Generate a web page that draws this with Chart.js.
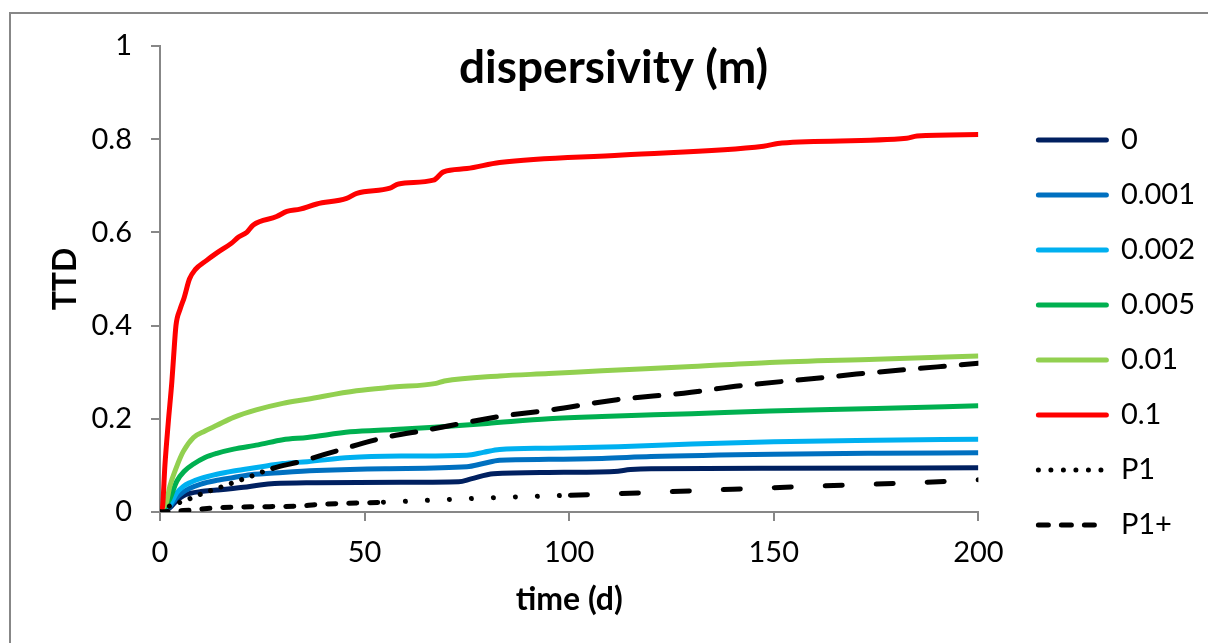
<!DOCTYPE html>
<html>
<head>
<meta charset="utf-8">
<script src="https://cdn.jsdelivr.net/npm/chart.js@4/dist/chart.umd.min.js"></script>
<style>
  html, body { margin: 0; padding: 0; background: #fff; overflow: hidden; }
  #wrap { position: relative; width: 1208px; height: 643px; overflow: hidden; }
  #frame { position: absolute; left: 9px; top: 12px; width: 1400px; height: 800px; border: 2px solid #878787; box-sizing: border-box; }
  #c { position: absolute; left: 0; top: 0; }
</style>
</head>
<body>
<div id="wrap">
  <div id="frame"></div>
  <canvas id="c" width="1208" height="643"></canvas>
</div>
<script>
// ---- data ----
const seriesNames = ['0', '0.001', '0.002', '0.005', '0.01', '0.1', 'P1', 'P1+'];
const seriesColors = ['#002060', '#0070C0', '#00B0F0', '#00B050', '#92D050', '#FF0000', '#000000', '#000000'];

const t0 = [0, 1, 2.4, 4, 5.7, 7.3, 10, 13.9, 20.4, 24.4, 28, 38, 60, 73, 76, 81.5, 95, 111, 115, 120, 150, 200];
const v0 = [0, 0.003, 0.009, 0.024, 0.035, 0.04, 0.044, 0.047, 0.053, 0.058, 0.061, 0.063, 0.064, 0.065, 0.071, 0.082, 0.085, 0.087, 0.091, 0.093, 0.094, 0.095];

const t001 = [0, 1, 2.4, 4, 5.7, 7.3, 10, 13.9, 18, 22, 30, 38.3, 55, 75, 79, 83, 95, 108, 120, 150, 175, 200];
const v001 = [0, 0.004, 0.012, 0.03, 0.043, 0.051, 0.06, 0.068, 0.074, 0.08, 0.085, 0.089, 0.093, 0.097, 0.104, 0.111, 0.113, 0.115, 0.119, 0.124, 0.126, 0.127];

const t002 = [0, 0.8, 2.4, 4, 5.7, 7.3, 10, 13.9, 18, 24, 30, 36, 46.5, 60, 75, 79, 83, 95, 112, 130, 150, 175, 200];
const v002 = [0, 0.006, 0.015, 0.04, 0.055, 0.063, 0.072, 0.081, 0.088, 0.096, 0.104, 0.108, 0.117, 0.12, 0.122, 0.128, 0.134, 0.137, 0.14, 0.146, 0.151, 0.154, 0.156];

const t005 = [0, 1.2, 2.4, 4.1, 6, 8.2, 11, 13.9, 18, 24, 30, 36, 46.5, 57, 67, 80, 95, 108, 130, 149, 175, 200];
const v005 = [0, 0.011, 0.028, 0.066, 0.088, 0.103, 0.117, 0.126, 0.135, 0.144, 0.155, 0.16, 0.172, 0.177, 0.182, 0.19, 0.2, 0.205, 0.211, 0.217, 0.222, 0.228];

const t01 = [0, 0.8, 1.6, 2.4, 4.1, 5.7, 8.2, 11, 13.9, 18, 23.5, 30, 36, 48, 57, 67.5, 69.5, 83, 95, 108, 130, 149, 175, 200];
const v01 = [0, 0.01, 0.022, 0.055, 0.098, 0.13, 0.16, 0.174, 0.186, 0.203, 0.219, 0.233, 0.242, 0.26, 0.268, 0.276, 0.281, 0.292, 0.297, 0.303, 0.312, 0.321, 0.328, 0.335];

const t1 = [0, 0.6, 1.2, 2.0, 2.9, 3.3, 3.9, 4.9, 5.9, 7.2, 8.6, 11.4, 13.9, 17.5, 19.2, 21.2, 22.8, 28.5, 31, 34.2, 38.3, 45.6, 48.1, 56.2, 58.3, 66.8, 69.3, 75, 83, 113, 147.5, 152, 182.5, 185, 200];
const v1 = [0, 0.01, 0.1, 0.19, 0.28, 0.33, 0.4, 0.435, 0.46, 0.5, 0.52, 0.54, 0.556, 0.577, 0.59, 0.6, 0.616, 0.634, 0.645, 0.65, 0.661, 0.673, 0.684, 0.695, 0.704, 0.712, 0.73, 0.737, 0.75, 0.766, 0.785, 0.792, 0.802, 0.807, 0.81];

const tP1 = [0, 2.4, 5.7, 10.5, 16.3, 22, 27.7, 34.2, 40, 54.6, 65.2, 83.1, 95.4, 111.7, 128, 141.8, 160.5, 170.2, 200];
const vP1 = [0, 0.013, 0.023, 0.04, 0.058, 0.076, 0.094, 0.108, 0.123, 0.159, 0.176, 0.205, 0.219, 0.241, 0.255, 0.271, 0.287, 0.296, 0.319];

const tP1p = [0, 5.7, 13.9, 22, 34.2, 38.3, 54.6, 79, 100.3, 123, 140, 168.7, 185, 200];
const vP1p = [0, 0.003, 0.009, 0.011, 0.013, 0.016, 0.021, 0.03, 0.036, 0.043, 0.049, 0.058, 0.063, 0.069];

const xTicks = [0, 50, 100, 150, 200];
const yTicks = [0, 0.2, 0.4, 0.6, 0.8, 1];

const seriesT = [t0, t001, t002, t005, t01, t1, tP1, tP1p];
const seriesV = [v0, v001, v002, v005, v01, v1, vP1, vP1p];

// ---- styles ----
const DOT = [0.01, 11];
const legendDash = [[], [], [], [], [], [], [0.01, 12.5], [10, 13]];
function segDash(i) {
  if (i === 6) return ctx => (ctx.p0.parsed.x < 24 ? DOT : [24, 17]);
  if (i === 7) return ctx => {
    const x = ctx.p0.parsed.x;
    if (x < 45) return [8, 13];
    if (x < 95) return [0.01, 22];
    return [17, 34];
  };
  return undefined;
}

const datasets = seriesNames.map((name, i) => ({
  label: name,
  data: seriesT[i].map((t, k) => ({ x: t, y: seriesV[i][k] })),
  borderColor: seriesColors[i],
  backgroundColor: seriesColors[i],
  borderWidth: 5,
  borderCapStyle: i >= 6 ? 'round' : 'butt',
  borderJoinStyle: 'round',
  pointRadius: 0,
  pointHoverRadius: 0,
  cubicInterpolationMode: 'monotone',
  fill: false,
  order: seriesNames.length - 1 - i,
  segment: i >= 6 ? { borderDash: segDash(i) } : undefined
}));

const FONT = 'Lato, "Open Sans", "DejaVu Sans", sans-serif';
const AXIS = '#878787';

new Chart(document.getElementById('c'), {
  type: 'line',
  data: { datasets },
  options: {
    responsive: false,
    animation: false,
    devicePixelRatio: 1,
    layout: { padding: { left: 22, right: 3, top: 0, bottom: 0 } },
    plugins: {
      tooltip: { enabled: false },
      title: {
        display: true,
        text: 'dispersivity (m)',
        color: '#000',
        font: { family: FONT, size: 46, weight: 'bold', lineHeight: 1.2 },
        padding: { top: 40.4, bottom: -49.6 }
      },
      legend: {
        position: 'right',
        align: 'start',
        title: { display: true, text: ' ', font: { size: 10, lineHeight: 1 }, padding: { top: 89.5, bottom: 0 } },
        labels: {
          usePointStyle: true,
          pointStyleWidth: 68,
          boxHeight: 29,
          padding: 26,
          color: '#000',
          font: { family: FONT, size: 29 },
          generateLabels: chart => chart.data.datasets.map((ds, i) => ({
            text: ds.label,
            fontColor: '#000',
            strokeStyle: ds.borderColor,
            fillStyle: ds.borderColor,
            lineWidth: 5,
            lineCap: 'round',
            lineDash: legendDash[i],
            pointStyle: 'line',
            hidden: false,
            datasetIndex: i
          }))
        }
      }
    },
    scales: {
      x: {
        type: 'linear',
        min: 0, max: 200,
        afterBuildTicks: s => { s.ticks = xTicks.map(v => ({ value: v })); },
        afterFit: s => { s.height = 131; },
        grid: { display: true, drawOnChartArea: false, drawTicks: true, tickLength: 9, color: AXIS, lineWidth: 2 },
        border: { display: true, color: AXIS, width: 2 },
        ticks: { color: '#000', font: { family: FONT, size: 29 }, padding: 14, maxRotation: 0 },
        title: { display: true, text: 'time (d)', color: '#000', font: { family: FONT, size: 32, weight: 'bold', lineHeight: 1.2 }, padding: { top: 0, bottom: 24 } }
      },
      y: {
        type: 'linear',
        min: 0, max: 1,
        afterBuildTicks: s => { s.ticks = yTicks.map(v => ({ value: v })); },
        afterFit: s => { s.width = 138; },
        grid: { display: true, drawOnChartArea: false, drawTicks: true, tickLength: 9, color: AXIS, lineWidth: 2 },
        border: { display: true, color: AXIS, width: 2 },
        ticks: { color: '#000', font: { family: FONT, size: 29 }, padding: 19, callback: v => String(v) },
        title: { display: true, text: 'TTD', color: '#000', font: { family: FONT, size: 32, weight: 'bold', lineHeight: 1.2 }, padding: { top: 24, bottom: 0 } }
      },
      spacer: {
        type: 'linear',
        position: 'right',
        display: true,
        min: 0, max: 1,
        afterFit: s => { s.width = 34; },
        grid: { display: false, drawTicks: false },
        border: { display: false },
        ticks: { display: false }
      }
    }
  }
});
</script>
</body>
</html>
